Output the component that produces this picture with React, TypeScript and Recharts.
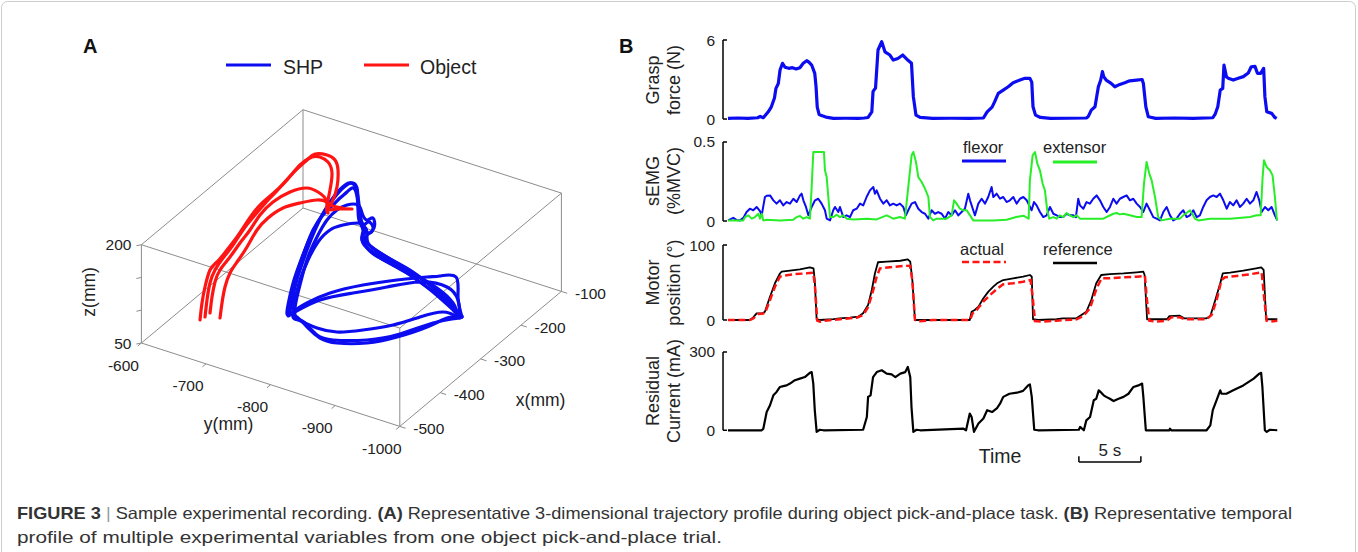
import React from "react";
import { Line, LineChart, ReferenceLine, Scatter, ScatterChart, XAxis, YAxis } from "recharts";

const FONT = "'Liberation Sans', Arial, Helvetica, sans-serif";
const BLUE = "#0c0cf0";
const RED = "#ff1414";
const GREEN = "#28ee28";
const INK = "#222";
const BOX_GREY = "#8c8c8c";

// ---------- panel A: 3-D trajectory ----------
const X_DOMAIN = [-500, -100];
const Y_DOMAIN = [-1000, -600];
const Z_DOMAIN = [50, 200];
const X_TICKS = [-500, -400, -300, -200, -100];
const Y_TICKS = [-1000, -900, -800, -700, -600];
const Z_TICKS = [50, 100, 150, 200];
const Z_LABELS = [50, 200];

// projected trajectories, in view units (u right, v up)
const SHP_LOOP_1 = [[159,-108],[144,-110],[124,-119],[94,-129],[64,-135],[34,-135],[17,-130],[5,-120],[-6,-109],[-13,-105],[-11,-95],[-8,-79],[-3,-62],[4,-42],[12,-22],[22,-2],[32,13],[42,23],[48,25],[52,22],[55,11],[57,-5],[60,-17],[65,-14],[70,-19],[67,-25],[61,-24],[60,-32],[69,-45],[87,-55],[110,-69],[130,-84],[147,-99],[159,-109]];
const SHP_LOOP_2 = [[157,-108],[155,-92],[144,-79],[117,-74],[84,-79],[50,-85],[17,-92],[-8,-104],[-16,-106],[-14,-92],[-9,-72],[-2,-52],[6,-32],[16,-12],[28,6],[38,18],[45,24],[50,25],[54,20],[55,6],[57,-10],[62,-22],[59,-29],[62,-37],[77,-50],[104,-65],[124,-79],[140,-90],[152,-104],[157,-108]];
const SHP_LOOP_3 = [[155,-109],[140,-104],[117,-109],[90,-117],[60,-122],[34,-124],[14,-120],[0,-114],[-8,-107],[-6,-89],[-1,-69],[5,-49],[14,-29],[24,-12],[34,-2],[44,3],[55,3],[59,-5],[64,-12],[70,-10],[71,-20],[64,-27],[64,-35],[84,-49],[110,-65],[134,-80],[150,-95],[155,-109]];
const SHP_LOOP_4 = [[159,-109],[155,-89],[153,-69],[137,-68],[124,-69],[94,-72],[60,-77],[27,-85],[4,-95],[-10,-104],[-15,-107],[-12,-89],[-6,-65],[2,-42],[10,-22],[20,-7],[30,3],[37,10],[44,16],[49,20],[53,16],[55,1],[56,-12],[60,-22],[59,-32],[67,-42],[90,-55],[117,-70],[140,-89],[154,-104],[159,-109]];
const SHP_LOOP_5 = [[157,-110],[130,-115],[97,-126],[64,-132],[30,-132],[14,-127],[4,-117],[-3,-112],[-10,-109],[-8,-92],[-3,-72],[5,-52],[15,-34],[27,-22],[40,-17],[54,-15],[60,-17],[64,-24],[65,-35],[80,-47],[107,-62],[130,-79],[148,-94],[157,-110]];

const OBJECT_PASS_1 = [[-103,-112],[-101,-95],[-98,-79],[-93,-62],[-86,-54],[-76,-42],[-66,-29],[-56,-14],[-43,3],[-26,18],[-10,35],[4,48],[12,54],[24,53],[32,48],[35,38],[34,21],[29,6],[24,-2],[25,-5]];
const OBJECT_PASS_2 = [[-98,-109],[-96,-92],[-93,-75],[-88,-62],[-80,-50],[-70,-37],[-60,-22],[-48,-7],[-33,10],[-16,28],[-3,43],[9,51],[17,51],[25,46],[29,35],[27,18],[24,3],[25,-2],[35,-1],[49,-1]];
const OBJECT_PASS_3 = [[-93,-105],[-91,-89],[-88,-74],[-83,-62],[-73,-49],[-63,-35],[-53,-22],[-43,-7],[-30,6],[-13,16],[4,20],[15,16],[22,10],[25,0]];
const OBJECT_PASS_4 = [[-83,-110],[-81,-95],[-78,-79],[-73,-65],[-66,-54],[-56,-39],[-46,-22],[-35,-10],[-20,0],[-3,5],[14,8],[24,6],[30,2],[40,0]];

const SHP_LOOPS = [SHP_LOOP_1, SHP_LOOP_2, SHP_LOOP_3, SHP_LOOP_4, SHP_LOOP_5];
const OBJECT_PASSES = [OBJECT_PASS_1, OBJECT_PASS_2, OBJECT_PASS_3, OBJECT_PASS_4];

// ---------- panel B: time traces (t in s) ----------
const GRASP = [[0,0.05],[0.8,0.08],[1.6,0.05],[2.4,0.1],[2.6,0.2],[2.85,0.1],[3.25,0.55],[3.5,0.93],[3.75,1.6],[3.87,2.33],[4.06,2.7],[4.2,3.72],[4.4,4.23],[4.6,3.93],[4.9,3.85],[5.2,3.9],[5.5,3.8],[5.8,3.9],[6.07,4.23],[6.35,4.43],[6.55,4.3],[6.75,4.1],[7.0,3.47],[7.1,2.5],[7.2,0.9],[7.35,0.35],[7.6,0.25],[7.9,0.15],[8.5,0.05],[9.5,0.06],[10.5,0.05],[11.0,0.08],[11.3,0.12],[11.6,0.55],[11.7,2.1],[11.9,2.35],[12.1,5.24],[12.4,5.87],[12.66,5.1],[13.06,4.86],[13.33,4.48],[13.7,4.6],[14.1,4.86],[14.5,4.48],[14.8,4.23],[14.95,1.7],[15.16,0.3],[15.5,0.12],[16.5,0.05],[18,0.06],[19.5,0.05],[20.6,0.08],[20.9,0.55],[21.3,0.9],[21.5,1.3],[21.8,1.95],[22.2,2.2],[22.6,2.45],[23.0,2.76],[23.55,2.96],[23.95,3.09],[24.35,3.09],[24.5,2.8],[24.6,0.93],[24.8,0.3],[25.2,0.12],[26,0.05],[27.5,0.06],[28.9,0.08],[29.06,0.2],[29.3,0.68],[29.6,0.93],[29.87,2.45],[30.06,2.96],[30.2,3.6],[30.3,3.22],[30.5,2.96],[30.9,2.71],[31.2,2.45],[31.6,2.63],[32.0,2.76],[32.4,2.9],[32.96,2.96],[33.4,3.0],[33.5,2.7],[33.7,0.93],[33.9,0.17],[34.5,0.05],[36,0.08],[37.5,0.05],[39.1,0.1],[39.3,0.4],[39.5,0.93],[39.7,2.2],[39.9,2.33],[40.0,4.1],[40.2,3.2],[40.35,3.1],[40.75,2.96],[41.15,3.09],[41.56,3.22],[41.96,3.5],[42.2,3.97],[42.5,4.0],[42.7,3.47],[42.96,3.47],[43.2,3.85],[43.3,1.7],[43.45,0.55],[43.85,0.43],[44.1,0.12],[44.25,0.05]];

const FLEXOR = [[0,0.004],[0.3,0.015],[0.43,0.02],[0.7,0.006],[0.97,0.004],[1.24,0.02],[1.5,0.057],[1.77,0.078],[2.04,0.068],[2.31,0.089],[2.58,0.062],[2.72,0.036],[2.98,0.152],[3.12,0.16],[3.39,0.162],[3.66,0.131],[3.92,0.11],[4.19,0.131],[4.46,0.099],[4.73,0.12],[5.0,0.11],[5.27,0.141],[5.54,0.12],[5.81,0.162],[5.94,0.173],[6.08,0.131],[6.29,0.089],[6.48,0.036],[6.75,0.089],[7.02,0.131],[7.28,0.141],[7.55,0.11],[7.82,0.068],[7.96,0.015],[8.23,0.004],[8.49,0.068],[8.63,0.089],[8.9,0.057],[9.03,0.089],[9.3,0.025],[9.57,0.036],[9.84,0.025],[10.1,0.068],[10.38,0.078],[10.65,0.11],[10.91,0.099],[11.18,0.152],[11.45,0.194],[11.72,0.215],[11.85,0.173],[11.99,0.194],[12.26,0.141],[12.53,0.11],[12.8,0.131],[13.06,0.099],[13.33,0.11],[13.6,0.099],[13.87,0.11],[14.14,0.089],[14.35,0.036],[14.54,0.068],[14.81,0.11],[15.08,0.12],[15.35,0.078],[15.62,0.057],[15.89,0.046],[16.16,0.015],[16.42,0.068],[16.69,0.046],[16.96,0.057],[17.23,0.046],[17.5,0.015],[17.77,0.057],[18.04,0.036],[18.31,0.068],[18.58,0.036],[18.84,0.057],[19.11,0.078],[19.38,0.173],[19.52,0.131],[19.78,0.068],[19.92,0.036],[20.19,0.11],[20.46,0.141],[20.73,0.11],[20.99,0.152],[21.26,0.215],[21.4,0.152],[21.67,0.173],[21.94,0.141],[22.2,0.152],[22.47,0.12],[22.74,0.131],[23.01,0.152],[23.28,0.11],[23.55,0.141],[23.82,0.152],[24.09,0.131],[24.3,0.099],[24.49,0.068],[24.68,0.12],[24.89,0.099],[25.16,0.057],[25.43,0.025],[25.7,0.036],[25.97,0.089],[26.24,0.046],[26.51,0.036],[26.77,0.025],[27.04,0.025],[27.31,0.046],[27.58,0.036],[27.85,0.036],[28.06,0.025],[28.25,0.141],[28.39,0.099],[28.66,0.078],[28.92,0.12],[29.19,0.11],[29.46,0.141],[29.73,0.162],[30.0,0.131],[30.27,0.089],[30.54,0.057],[30.81,0.089],[31.08,0.141],[31.34,0.11],[31.61,0.141],[31.88,0.152],[32.15,0.162],[32.42,0.131],[32.69,0.141],[32.96,0.11],[33.23,0.089],[33.49,0.057],[33.76,0.11],[34.03,0.068],[34.3,0.025],[34.57,0.015],[34.84,0.004],[35.11,0.057],[35.38,0.089],[35.65,0.036],[35.91,0.004],[36.18,0.015],[36.45,0.046],[36.72,0.068],[36.99,0.025],[37.26,0.036],[37.53,0.068],[37.8,0.025],[38.06,0.036],[38.33,0.089],[38.6,0.131],[38.87,0.152],[39.14,0.162],[39.41,0.152],[39.68,0.173],[39.95,0.131],[40.22,0.078],[40.48,0.12],[40.75,0.099],[41.02,0.131],[41.29,0.089],[41.56,0.11],[41.83,0.141],[42.1,0.11],[42.37,0.131],[42.63,0.184],[42.85,0.131],[43.04,0.057],[43.31,0.089],[43.58,0.068],[43.84,0.089],[44.11,0.036],[44.3,0.004]];

const EXTENSOR = [[0,0.004],[1.24,0.004],[1.37,0.025],[1.64,0.036],[1.91,0.015],[2.18,0.025],[2.45,0.046],[2.58,0.015],[2.72,0.046],[2.85,0.004],[3.12,0.008],[4.19,0.004],[5.27,0.008],[5.54,0.025],[5.81,0.032],[6.08,0.015],[6.34,0.025],[6.61,0.015],[6.75,0.215],[6.88,0.437],[7.74,0.437],[7.82,0.321],[7.96,0.278],[8.09,0.152],[8.23,0.025],[8.49,0.025],[8.76,0.04],[9.03,0.025],[9.3,0.036],[9.57,0.015],[10.1,0.01],[11.18,0.015],[11.99,0.01],[12.8,0.036],[13.33,0.015],[13.87,0.025],[14.27,0.015],[14.54,0.215],[14.81,0.416],[14.95,0.437],[15.16,0.373],[15.35,0.278],[15.62,0.247],[15.89,0.205],[16.16,0.152],[16.29,0.025],[16.56,0.004],[16.83,0.015],[17.63,0.015],[18.04,0.036],[18.23,0.131],[18.44,0.11],[18.71,0.078],[18.98,0.068],[19.25,0.068],[19.52,0.036],[19.78,0.004],[20.59,0.004],[21.4,0.004],[22.47,0.008],[23.25,0.025],[23.82,0.034],[24.25,0.015],[24.35,0.257],[24.57,0.416],[24.76,0.437],[24.95,0.363],[25.16,0.321],[25.38,0.236],[25.56,0.194],[25.75,0.068],[25.91,0.015],[26.24,0.025],[26.51,0.015],[26.77,0.036],[27.04,0.025],[27.31,0.051],[27.58,0.036],[27.85,0.025],[28.12,0.036],[28.39,0.015],[29.19,0.015],[30.27,0.015],[31.08,0.046],[31.34,0.051],[31.61,0.042],[31.88,0.046],[32.42,0.036],[32.96,0.025],[33.36,0.025],[33.55,0.236],[33.76,0.373],[33.98,0.3],[34.17,0.257],[34.44,0.152],[34.7,0.025],[34.97,0.004],[35.65,0.015],[36.45,0.015],[36.72,0.036],[36.99,0.051],[37.26,0.068],[37.45,0.046],[37.66,0.015],[37.93,0.004],[38.87,0.015],[40.48,0.015],[42.1,0.025],[42.63,0.036],[42.96,0.036],[43.12,0.278],[43.23,0.384],[43.44,0.342],[43.71,0.321],[43.92,0.289],[44.11,0.152],[44.25,0.025],[44.3,0.004]];

const MOTOR_REFERENCE = [[0,0],[1.77,0],[2.04,3.5],[2.31,8.9],[2.8,8.9],[2.98,11],[3.39,31],[3.79,49],[4.19,62],[4.33,64.4],[5.0,65.8],[5.8,67.5],[6.6,70.2],[6.9,68.9],[7.0,53],[7.15,1],[7.4,0],[8.5,1.3],[9.0,2.2],[9.84,3.1],[10.5,4.4],[10.9,8.9],[11.3,20],[11.6,40],[11.85,62],[12.1,77],[12.8,77.8],[13.9,79],[14.5,80.9],[14.7,77.8],[14.87,53],[15.08,0],[19.5,0],[19.65,11],[19.9,13.3],[20.2,17.8],[20.6,28.9],[21.0,37.8],[21.4,44.4],[21.7,48.9],[22.2,53.3],[23.0,55.6],[23.8,57.8],[24.35,60],[24.5,57.8],[24.6,1],[25,0],[26.5,1],[27.0,2.2],[28.1,2.2],[28.5,6.7],[28.9,11],[29.3,26.7],[29.7,48.9],[30.1,60],[30.8,61.3],[31.9,62.2],[32.96,63.6],[33.5,64.4],[33.6,60],[33.8,1],[35.4,1],[35.6,5.3],[36.4,5.8],[36.8,2.2],[38.6,2.2],[38.9,5.3],[39.3,26.7],[39.7,48.9],[39.9,62.2],[40.5,63.1],[41.56,65.8],[42.6,68.9],[43.0,70.2],[43.2,66.7],[43.4,1],[44.3,1]];

const MOTOR_ACTUAL = [[0,0],[1.77,0],[2.04,2.2],[2.45,8],[2.98,8.9],[3.39,26.7],[3.79,44.4],[4.19,57.8],[4.46,59],[5.27,61],[6.34,62.2],[6.88,63.1],[7.02,44.4],[7.2,-0.9],[7.42,-2.2],[7.82,-0.9],[9.03,0.9],[10.38,3.1],[10.91,6.7],[11.32,17.8],[11.72,40],[11.99,57.8],[12.26,68.9],[13.06,70.2],[14.14,72],[14.68,72.4],[14.87,53],[15.08,0],[15.35,-1.8],[16.56,0],[19.52,0],[19.73,8.9],[20.05,13.3],[20.59,24.4],[21.13,33.3],[21.67,41],[22.2,47.6],[23.0,48.9],[23.8,51],[24.4,53.3],[24.57,31],[24.76,-1.3],[25.43,-2.2],[26.51,-0.9],[28.12,0.9],[28.66,5.3],[29.19,15.6],[29.73,42.2],[30.13,55.6],[30.81,55.6],[31.88,56.9],[32.96,57.8],[33.63,58.7],[33.76,31],[33.98,-0.9],[34.57,-2.2],[35.38,-0.9],[35.78,3.6],[36.45,3.6],[36.85,0.9],[38.6,0.9],[39.0,6.7],[39.41,26.7],[39.8,53.3],[40.08,56.9],[41.02,58.7],[42.1,61],[43.04,63.6],[43.23,31],[43.44,-0.9],[43.7,-2.2],[44.3,-0.9]];

const RESIDUAL_CURRENT = [[0,0],[2.72,0],[2.85,6],[3.12,70],[3.39,96],[3.66,134],[3.92,147],[4.19,166],[4.46,169],[4.73,172],[5.0,179],[5.4,192],[5.8,198],[6.2,204],[6.6,220],[6.75,223],[6.88,179],[7.0,77],[7.15,-6],[7.4,2],[7.7,0],[10.9,2],[11.2,51],[11.3,128],[11.5,134],[11.7,204],[12.0,223],[12.4,230],[12.8,217],[13.2,214],[13.5,204],[13.9,217],[14.3,223],[14.5,243],[14.7,204],[14.8,89],[14.95,-6],[15.2,2],[15.5,0],[19.0,6],[19.2,0],[19.5,64],[19.65,51],[19.84,-6],[20.2,26],[20.6,45],[20.9,77],[21.3,70],[21.7,85],[21.94,102],[22.2,128],[22.7,140],[23.3,144],[23.8,151],[24.2,172],[24.35,176],[24.5,128],[24.7,2],[25,0],[28.3,2],[28.4,13],[28.7,0],[28.9,38],[29.2,51],[29.5,115],[29.7,121],[29.9,153],[30.05,147],[30.3,134],[30.5,128],[30.8,121],[31.1,112],[31.5,121],[31.9,128],[32.3,140],[32.7,166],[33.1,172],[33.4,179],[33.5,128],[33.7,0],[35.6,0],[35.65,6],[35.75,0],[38.6,0],[38.9,19],[39.1,77],[39.4,115],[39.7,153],[39.8,140],[40.2,140],[40.75,153],[41.56,172],[42.4,198],[42.85,217],[43.0,220],[43.1,166],[43.3,0],[43.45,-6],[43.7,2],[44.3,0]];

const T_DOMAIN = [-0.4, 44.3];
const SCALE_BAR_START = 28.3;
const SCALE_BAR_SECONDS = 5;

// ---------- helpers ----------
const toUV = (pts: number[][]) => pts.map(([u, v]) => ({ u, v }));
const toTV = (pts: number[][]) => pts.map(([t, v]) => ({ t, v }));

// view projection of the 3-D box, origin at (xmax, ymax, zmin)
function project(x: number, y: number, z: number) {
  const dx = x - X_DOMAIN[1];
  const dy = y - Y_DOMAIN[1];
  const dz = z - Z_DOMAIN[0];
  return { u: 0.404 * dx - 0.646 * dy, v: 0.3375 * dx + 0.2085 * dy + 0.6553 * dz };
}
const shift = (p: { u: number; v: number }, du: number, dv: number) => ({ u: p.u + du, v: p.v + dv });

function buildBox() {
  const segs: { u: number; v: number }[][] = [];
  X_DOMAIN.forEach((x) => Y_DOMAIN.forEach((y) => segs.push([project(x, y, Z_DOMAIN[0]), project(x, y, Z_DOMAIN[1])])));
  X_DOMAIN.forEach((x) => Z_DOMAIN.forEach((z) => segs.push([project(x, Y_DOMAIN[0], z), project(x, Y_DOMAIN[1], z)])));
  Y_DOMAIN.forEach((y) => Z_DOMAIN.forEach((z) => segs.push([project(X_DOMAIN[0], y, z), project(X_DOMAIN[1], y, z)])));
  X_TICKS.forEach((x) => segs.push([project(x, Y_DOMAIN[0], Z_DOMAIN[0]), project(x, Y_DOMAIN[0] - 9, Z_DOMAIN[0])]));
  Y_TICKS.forEach((y) => segs.push([project(X_DOMAIN[0], y, Z_DOMAIN[0]), project(X_DOMAIN[0] - 9, y, Z_DOMAIN[0])]));
  Z_TICKS.forEach((z) => {
    const p = project(X_DOMAIN[0], Y_DOMAIN[1], z);
    segs.push([p, shift(p, -5, -1)]);
  });
  return segs;
}

function buildLabels() {
  const out: any[] = [];
  X_TICKS.forEach((x) => out.push({ ...shift(project(x, Y_DOMAIN[0], Z_DOMAIN[0]), 29, -2), text: String(x), anchor: "middle", size: 15.5 }));
  Y_TICKS.forEach((y) => out.push({ ...shift(project(X_DOMAIN[0], y, Z_DOMAIN[0]), -18, -22), text: String(y), anchor: "middle", size: 15.5 }));
  Z_LABELS.forEach((z) => out.push({ ...shift(project(X_DOMAIN[0], Y_DOMAIN[1], z), -10, 0), text: String(z), anchor: "end", size: 15.5 }));
  out.push({ ...shift(project(-300, Y_DOMAIN[0], Z_DOMAIN[0]), 60, -41), text: "x(mm)", anchor: "middle", size: 17.5 });
  out.push({ ...shift(project(X_DOMAIN[0], -800, Z_DOMAIN[0]), -42, -39), text: "y(mm)", anchor: "middle", size: 17.5 });
  out.push({ ...shift(project(X_DOMAIN[0], Y_DOMAIN[1], 125), -52, 2), text: "z(mm)", anchor: "middle", size: 17.5, rotate: true });
  return out;
}

const NoMark = () => null;

function AxisText(props: any) {
  const { cx, cy, payload } = props;
  return (
    <text
      x={cx}
      y={cy}
      textAnchor={payload.anchor}
      dominantBaseline="central"
      fontSize={payload.size}
      fontFamily={FONT}
      fill={INK}
      transform={payload.rotate ? `rotate(-90 ${cx} ${cy})` : undefined}
    >
      {payload.text}
    </text>
  );
}

function TrajectoryPanel() {
  const box = buildBox();
  const labels = buildLabels();
  return (
    <ScatterChart width={560} height={440} margin={{ top: 0, right: 0, bottom: 0, left: 0 }}>
      <XAxis type="number" dataKey="u" domain={[-243, 317]} hide />
      <YAxis type="number" dataKey="v" domain={[-262, 178]} hide />
      {box.map((seg, i) => (
        <Scatter key={`b${i}`} data={seg} shape={NoMark} line={{ stroke: BOX_GREY, strokeWidth: 1, fill: "none" }} isAnimationActive={false} />
      ))}
      <Scatter data={labels} shape={AxisText} isAnimationActive={false} />
      {SHP_LOOPS.map((loop, i) => (
        <Scatter
          key={`s${i}`}
          data={toUV(loop)}
          shape={NoMark}
          lineJointType="natural"
          line={{ stroke: BLUE, strokeWidth: 3.2, fill: "none", strokeLinejoin: "round", strokeLinecap: "round" }}
          isAnimationActive={false}
        />
      ))}
      {OBJECT_PASSES.map((pass, i) => (
        <Scatter
          key={`o${i}`}
          data={toUV(pass)}
          shape={NoMark}
          lineJointType="natural"
          line={{ stroke: RED, strokeWidth: 3.2, fill: "none", strokeLinejoin: "round", strokeLinecap: "round" }}
          isAnimationActive={false}
        />
      ))}
    </ScatterChart>
  );
}

// ---------- panel B ----------
const TICK_GAP = 8;
function InTick(props: any) {
  const { x, y, payload } = props;
  const axisX = x + TICK_GAP;
  return (
    <g>
      <line x1={axisX} x2={axisX + 4} y1={y} y2={y} stroke="#000" strokeWidth={1.5} />
      <text x={x} y={y} textAnchor="end" dominantBaseline="central" fontSize={15.5} fontFamily={FONT} fill={INK}>
        {payload.value}
      </text>
    </g>
  );
}

function TracePanel(props: { top: number; domain: number[]; ticks: number[]; plotH: number; bottomPad?: number; children: React.ReactNode }) {
  const { top, domain, ticks, plotH, children } = props;
  const bottomPad = props.bottomPad ?? 10;
  return (
    <div style={{ position: "absolute", left: 600, top: top - 10 }}>
      <LineChart width={700} height={10 + plotH + bottomPad} margin={{ top: 10, right: 22.7, bottom: bottomPad, left: 0 }}>
        <XAxis type="number" dataKey="t" domain={T_DOMAIN} hide />
        <YAxis
          type="number"
          domain={domain}
          ticks={ticks}
          interval={0}
          width={123}
          axisLine={false}
          tickLine={false}
          tickSize={0}
          tickMargin={TICK_GAP}
          tick={<InTick />}
        />
        <ReferenceLine
          segment={[{ x: T_DOMAIN[0], y: ticks[0] }, { x: T_DOMAIN[0], y: ticks[1] }]}
          stroke="#000"
          strokeWidth={1.5}
          ifOverflow="visible"
        />
        {children}
      </LineChart>
    </div>
  );
}

function AxisTitle({ cy, lines }: { cy: number; lines: string[] }) {
  return (
    <g>
      {lines.map((s, i) => (
        <text
          key={s}
          x={653 + i * 21}
          y={cy}
          fontSize={18}
          textAnchor="middle"
          dominantBaseline="central"
          fill={INK}
          transform={`rotate(-90 ${653 + i * 21} ${cy})`}
        >
          {s}
        </text>
      ))}
    </g>
  );
}

function Overlay() {
  return (
    <svg width={1358} height={552} style={{ position: "absolute", left: 0, top: 0, pointerEvents: "none" }} fontFamily={FONT}>
      <rect x={1.5} y={1.5} width={1354} height={700} rx={6} fill="none" stroke="#cdcdcd" strokeWidth={1} />
      <text x={83} y={53} fontSize={20} fontWeight="bold" fill="#111">A</text>
      <text x={619} y={53} fontSize={20} fontWeight="bold" fill="#111">B</text>

      <line x1={226} x2={271} y1={65} y2={65} stroke={BLUE} strokeWidth={3} />
      <text x={283} y={73.5} fontSize={19.5} fill={INK}>SHP</text>
      <line x1={364} x2={409} y1={65} y2={65} stroke={RED} strokeWidth={3} />
      <text x={420} y={73.5} fontSize={19.5} fill={INK}>Object</text>

      <AxisTitle cy={80} lines={["Grasp", "force (N)"]} />
      <AxisTitle cy={181} lines={["sEMG", "(%MVC)"]} />
      <AxisTitle cy={282.5} lines={["Motor", "position (°)"]} />
      <AxisTitle cy={391} lines={["Residual", "Current (mA)"]} />

      <text x={963} y={153} fontSize={16.5} fill={INK}>flexor</text>
      <line x1={962} x2={1006} y1={161} y2={161} stroke={BLUE} strokeWidth={3} />
      <text x={1043} y={153} fontSize={16.5} fill={INK}>extensor</text>
      <line x1={1053} x2={1097} y1={162} y2={162} stroke={GREEN} strokeWidth={3} />

      <text x={960} y={255} fontSize={16.5} fill={INK}>actual</text>
      <line x1={962} x2={1006} y1={262} y2={262} stroke={RED} strokeWidth={2.6} strokeDasharray="7 3.5" />
      <text x={1043} y={255} fontSize={16.5} fill={INK}>reference</text>
      <line x1={1053} x2={1097} y1={263} y2={263} stroke="#000" strokeWidth={2.4} />

      <text x={1000} y={463} fontSize={19.5} textAnchor="middle" fill={INK}>Time</text>

      <text x={17} y={519} fontSize={16.5} fill="#333" textLength={1275} lengthAdjust="spacingAndGlyphs">
        <tspan fontWeight="bold">FIGURE 3</tspan>
        <tspan fill="#9a9a9a"> | </tspan>
        <tspan>Sample experimental recording. </tspan>
        <tspan fontWeight="bold">(A)</tspan>
        <tspan> Representative 3-dimensional trajectory profile during object pick-and-place task. </tspan>
        <tspan fontWeight="bold">(B)</tspan>
        <tspan> Representative temporal</tspan>
      </text>
      <text x={17} y={543} fontSize={16.5} fill="#333" textLength={705} lengthAdjust="spacingAndGlyphs">
        profile of multiple experimental variables from one object pick-and-place trial.
      </text>
    </svg>
  );
}

export default function App() {
  const barY = -121.5;
  const barTop = -99.6;
  const barEnd = SCALE_BAR_START + SCALE_BAR_SECONDS;
  return (
    <div style={{ position: "absolute", left: 0, top: 0, width: 1358, height: 552, background: "#fff", overflow: "hidden", fontFamily: FONT }}>
      <div style={{ position: "absolute", left: 60, top: 30 }}>
        <TrajectoryPanel />
      </div>

      <TracePanel top={40} domain={[-0.3, 6]} ticks={[0, 6]} plotH={83}>
        <Line data={toTV(GRASP)} dataKey="v" type="linear" stroke={BLUE} strokeWidth={3.2} dot={false} activeDot={false} strokeLinejoin="round" isAnimationActive={false} />
      </TracePanel>

      <TracePanel top={141.7} domain={[-0.02, 0.5]} ticks={[0, 0.5]} plotH={82.2}>
        <Line data={toTV(FLEXOR)} dataKey="v" type="linear" stroke={BLUE} strokeWidth={2} dot={false} activeDot={false} strokeLinejoin="round" isAnimationActive={false} />
        <Line data={toTV(EXTENSOR)} dataKey="v" type="linear" stroke={GREEN} strokeWidth={2} dot={false} activeDot={false} strokeLinejoin="round" isAnimationActive={false} />
      </TracePanel>

      <TracePanel top={245} domain={[-5, 100]} ticks={[0, 100]} plotH={78.75}>
        <Line data={toTV(MOTOR_REFERENCE)} dataKey="v" type="linear" stroke="#000" strokeWidth={1.8} dot={false} activeDot={false} strokeLinejoin="round" isAnimationActive={false} />
        <Line data={toTV(MOTOR_ACTUAL)} dataKey="v" type="linear" stroke={RED} strokeWidth={2.5} strokeDasharray="7 3.5" dot={false} activeDot={false} isAnimationActive={false} />
      </TracePanel>

      <TracePanel top={351.7} domain={[-15, 300]} ticks={[0, 300]} plotH={82.2} bottomPad={40}>
        <Line data={toTV(RESIDUAL_CURRENT)} dataKey="v" type="linear" stroke="#000" strokeWidth={2.2} dot={false} activeDot={false} strokeLinejoin="round" isAnimationActive={false} />
        <ReferenceLine
          segment={[{ x: SCALE_BAR_START, y: barY }, { x: barEnd, y: barY }]}
          stroke="#000"
          strokeWidth={1.5}
          ifOverflow="visible"
          label={{ value: "5 s", position: "top", offset: 6, fontSize: 17, fill: INK }}
        />
        <ReferenceLine segment={[{ x: SCALE_BAR_START, y: barY }, { x: SCALE_BAR_START, y: barTop }]} stroke="#000" strokeWidth={1.5} ifOverflow="visible" />
        <ReferenceLine segment={[{ x: barEnd, y: barY }, { x: barEnd, y: barTop }]} stroke="#000" strokeWidth={1.5} ifOverflow="visible" />
      </TracePanel>

      <Overlay />
    </div>
  );
}
